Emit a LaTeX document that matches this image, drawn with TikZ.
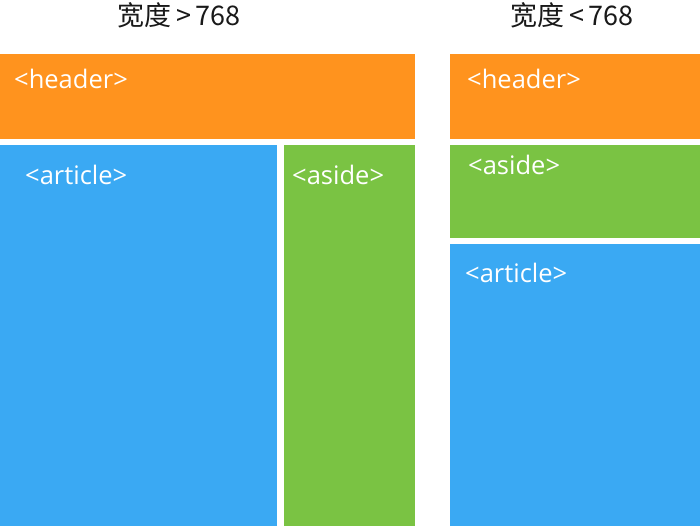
\documentclass[tikz,border=0pt]{standalone}
\usepackage{fontspec}
\setmainfont{Open Sans}
\newfontfamily\cjkfont{Noto Sans CJK SC}
\usetikzlibrary{positioning}
\definecolor{lyorange}{RGB}{255,147,30}
\definecolor{lyblue}{RGB}{58,169,243}
\definecolor{lygreen}{RGB}{122,195,67}
\tikzset{
  lybox/.style={anchor=north west, inner sep=0pt, outer sep=0pt, draw=none},
  lyhead/.style={lybox, fill=lyorange},
  lyart/.style={lybox, fill=lyblue},
  lyside/.style={lybox, fill=lygreen},
  lylab/.style={anchor=west, text=white, inner sep=0pt, font=\fontsize{25.5}{29}\selectfont},
  lytitle/.style={text=black!90, inner sep=0pt, font=\cjkfont\fontsize{27}{31}\selectfont}
}
\begin{document}
\begin{tikzpicture}[x=1pt, y=-1pt]
  \useasboundingbox (0,0) rectangle (700,526);
  % wide layout
  \node[lytitle] (titlewide) at (179,15) {宽度\,>\,768};
  \node[lyhead, minimum width=415pt, minimum height=85pt] (headwide) at (0,54) {};
  \node[lyart, minimum width=277pt, minimum height=381pt] (artwide) at (0,145) {};
  \node[lyside, minimum width=131pt, minimum height=381pt] (sidewide) at (284,145) {};
  \node[lylab] (headwidelab) at (14,79) {<header>};
  \node[lylab] (artwidelab) at (25,175) {<article>};
  \node[lylab] (sidewidelab) at (292,175) {<aside>};
  % narrow layout
  \node[lytitle] (titlenarrow) at (572,15) {宽度\,<\,768};
  \node[lyhead, minimum width=250pt, minimum height=85pt] (headnarrow) at (450,54) {};
  \node[lyside, minimum width=250pt, minimum height=93pt] (sidenarrow) at (450,145) {};
  \node[lyart, minimum width=250pt, minimum height=282pt] (artnarrow) at (450,244) {};
  \node[lylab] (headnarrowlab) at (467,79) {<header>};
  \node[lylab] (sidenarrowlab) at (468,165) {<aside>};
  \node[lylab] (artnarrowlab) at (465,273) {<article>};
\end{tikzpicture}
\end{document}
